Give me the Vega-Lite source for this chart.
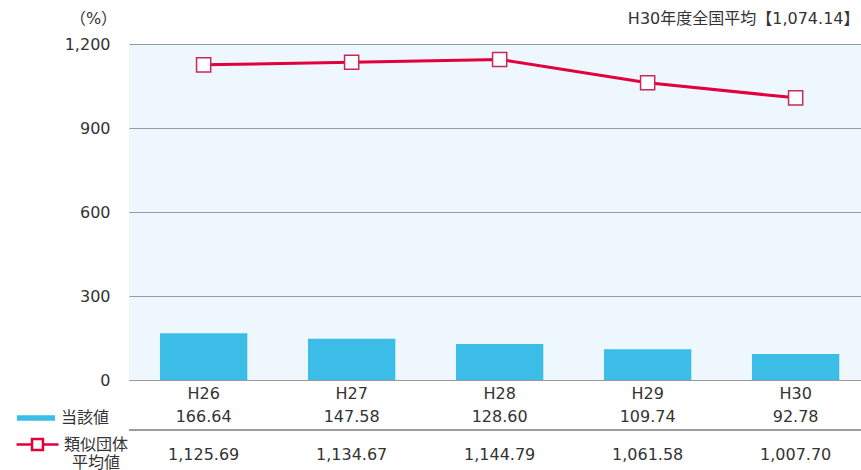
{
  "$schema": "https://vega.github.io/schema/vega-lite/v6.json",
  "width": 732,
  "height": 336,
  "autosize": {"type": "none"},
  "padding": {"left": 129, "top": 44, "right": 0, "bottom": 90},
  "background": "#ffffff",
  "config": {
    "font": "DejaVu Sans, Noto Sans CJK JP",
    "view": {"fill": "#eef7fd", "stroke": null}
  },
  "title": {
    "text": "H30年度全国平均【1,074.14】",
    "anchor": "end",
    "fontSize": 16,
    "fontWeight": "normal",
    "color": "#333333",
    "offset": 0,
    "baseline": "bottom",
    "dy": 33,
    "dx": -2
  },
  "data": {
    "values": [
      {"year": "H26", "val": 166.64, "avg": 1125.69},
      {"year": "H27", "val": 147.58, "avg": 1134.67},
      {"year": "H28", "val": 128.60, "avg": 1144.79},
      {"year": "H29", "val": 109.74, "avg": 1061.58},
      {"year": "H30", "val": 92.78, "avg": 1007.70}
    ]
  },
  "layer": [
    {
      "mark": {"type": "bar"},
      "encoding": {
        "x": {
          "field": "year",
          "type": "ordinal",
          "scale": {"paddingInner": 0.41, "paddingOuter": 0.178, "align": 0.588},
          "axis": {
            "title": null,
            "labelAngle": 0,
            "ticks": false,
            "domain": true,
            "domainColor": "#999999",
            "labelFontSize": 16,
            "labelColor": "#333333",
            "labelPadding": 5
          }
        },
        "y": {
          "field": "val",
          "type": "quantitative",
          "title": "（%）",
          "scale": {"domain": [0, 1200]},
          "axis": {
            "values": [0, 300, 600, 900, 1200],
            "format": ",.0f",
            "grid": true,
            "gridColor": "#9a9a9a",
            "domain": false,
            "ticks": false,
            "labelPadding": 19,
            "labelFontSize": 16,
            "labelColor": "#333333",
            "titleAngle": 0,
            "titleX": -36,
            "titleY": -26,
            "titleAlign": "center",
            "titleBaseline": "middle",
            "titleFontSize": 16,
            "titleFontWeight": "normal",
            "titleColor": "#333333"
          }
        },
        "fill": {
          "datum": "当該値",
          "scale": {"range": ["#3bbde8"]},
          "legend": {
            "orient": "none",
            "legendX": -112,
            "legendY": 355,
            "title": null,
            "padding": 0,
            "symbolType": "M-1,-0.15H1V0.15H-1Z",
            "symbolSize": 1444,
            "symbolStrokeWidth": 0,
            "labelFontSize": 16,
            "labelColor": "#333333",
            "labelOffset": 6
          }
        }
      }
    },
    {
      "mark": {"type": "line", "strokeWidth": 3},
      "encoding": {
        "x": {"field": "year", "type": "ordinal"},
        "y": {"field": "avg", "type": "quantitative", "title": "（%）"},
        "stroke": {
          "datum": "類似団体平均値",
          "scale": {"range": ["#e2003c"]},
          "legend": {
            "orient": "none",
            "legendX": -114,
            "legendY": 378,
            "title": null,
            "padding": 0,
            "symbolType": "M-1,0H-0.26M0.26,0H1M-0.26,-0.26H0.26V0.26H-0.26Z",
            "symbolSize": 1764,
            "symbolStrokeWidth": 2.5,
            "symbolFillColor": "#ffffff",
            "labelExpr": "['類似団体', '平均値']",
            "labelAlign": "center",
            "labelOffset": 36,
            "labelFontSize": 16,
            "labelLineHeight": 20,
            "labelColor": "#333333"
          }
        }
      }
    },
    {
      "mark": {
        "type": "point",
        "shape": "square",
        "size": 200,
        "filled": true,
        "fill": "#ffffff",
        "stroke": "#c8285a",
        "strokeWidth": 1.5,
        "opacity": 1
      },
      "encoding": {
        "x": {"field": "year", "type": "ordinal"},
        "y": {"field": "avg", "type": "quantitative", "title": "（%）"}
      }
    },
    {
      "mark": {"type": "text", "dy": 37, "fontSize": 16, "color": "#333333", "baseline": "middle"},
      "encoding": {
        "x": {"field": "year", "type": "ordinal"},
        "y": {"datum": 0},
        "text": {"field": "val", "type": "quantitative", "format": ",.2f"}
      }
    },
    {
      "mark": {"type": "text", "dy": 75, "fontSize": 16, "color": "#333333", "baseline": "middle"},
      "encoding": {
        "x": {"field": "year", "type": "ordinal"},
        "y": {"datum": 0},
        "text": {"field": "avg", "type": "quantitative", "format": ",.2f"}
      }
    },
    {
      "mark": {"type": "rule", "yOffset": 50, "color": "#999999", "strokeWidth": 1},
      "encoding": {"y": {"datum": 0}}
    }
  ]
}
